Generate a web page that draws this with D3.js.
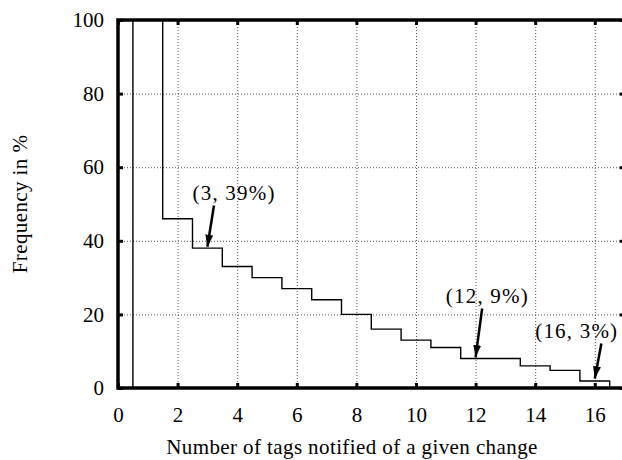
<!DOCTYPE html>
<html>
<head>
<meta charset="utf-8">
<script src="https://cdn.jsdelivr.net/npm/d3@7"></script>
<style>
    body { margin: 0; background: #fff; }
    svg { display: block; font-family: "Liberation Serif", "Times New Roman", serif; }
</style>
</head>
<body>
<svg id="chart" width="622" height="460"></svg>
<script>
    // number of tags notified of a change (0..17) and share of changes in %
    var tagCounts = [0, 1, 2, 3, 4, 5, 6, 7, 8, 9, 10, 11, 12, 13, 14, 15, 16, 17];
    var frequency = [0, 100, 46, 38, 33, 30, 27, 24, 20, 16, 13, 11, 8, 8, 6, 4.8, 1.9, 0];

    var xTicks = [0, 2, 4, 6, 8, 10, 12, 14, 16];
    var yTicks = [0, 20, 40, 60, 80, 100];

    // labelled points: arrow tip (x, tip), label start (lx, ly) in data units
    var notes = [
        { text: "(3, 39%)",  x: 3,  tip: 38.4, lx: 2.5,  ly: 51 },
        { text: "(12, 9%)",  x: 12, tip: 8.4,  lx: 11.0, ly: 23 },
        { text: "(16, 3%)",  x: 16, tip: 2.6,  lx: 14.0, ly: 13.5 }
    ];

    (function() {
        var plotLeft = 118, plotTop = 20, plotBottom = 388, unit = 29.8;
        var fontSize = "21px";

        var x = d3.scaleLinear().domain([0, 17]).range([plotLeft, plotLeft + 17 * unit]);
        var y = d3.scaleLinear().domain([0, 100]).range([plotBottom, plotTop]);
        var plotRight = x(17);

        var svg = d3.select("#chart");

        // dotted grid
        function styleGrid(g) {
            g.select(".domain").remove();
            g.selectAll("line").attr("stroke", "#555").attr("stroke-dasharray", "1,2");
        }
        svg.append("g")
            .attr("transform", "translate(0," + plotBottom + ")")
            .call(d3.axisBottom(x).tickValues(xTicks.slice(1)).tickSize(-(plotBottom - plotTop)).tickFormat(""))
            .call(styleGrid);
        svg.append("g")
            .attr("transform", "translate(" + plotLeft + ",0)")
            .call(d3.axisLeft(y).tickValues(yTicks.slice(1, -1)).tickSize(-(plotRight - plotLeft)).tickFormat(""))
            .call(styleGrid);

        // step line (histeps)
        var line = d3.line()
            .x(function(d, i) { return x(tagCounts[i]); })
            .y(function(d) { return y(d); })
            .curve(d3.curveStep);

        svg.append("path")
            .datum(frequency)
            .attr("fill", "none")
            .attr("stroke", "#000")
            .attr("stroke-width", 1.4)
            .attr("d", line);

        // axes with inward ticks
        function styleAxis(g) {
            g.select(".domain").remove();
            g.selectAll("line").attr("stroke", "#000").attr("stroke-width", 3);
            g.selectAll("text").attr("font-size", fontSize).attr("fill", "#000")
                .attr("font-family", "Liberation Serif, serif");
        }

        svg.append("g")
            .attr("transform", "translate(0," + plotBottom + ")")
            .call(d3.axisBottom(x).tickValues(xTicks).tickSize(-5).tickPadding(19))
            .call(styleAxis);
        svg.append("g")
            .attr("transform", "translate(0," + plotTop + ")")
            .call(d3.axisTop(x).tickValues(xTicks).tickSize(-5).tickFormat(""))
            .call(styleAxis);
        svg.append("g")
            .attr("transform", "translate(" + plotLeft + ",0)")
            .call(d3.axisLeft(y).tickValues(yTicks).tickSize(-5).tickPadding(14))
            .call(styleAxis);
        svg.append("g")
            .attr("transform", "translate(" + plotRight + ",0)")
            .call(d3.axisRight(y).tickValues(yTicks).tickSize(-5).tickFormat(""))
            .call(styleAxis);

        // frame
        svg.append("rect")
            .attr("x", plotLeft).attr("y", plotTop)
            .attr("width", plotRight - plotLeft).attr("height", plotBottom - plotTop)
            .attr("fill", "none").attr("stroke", "#000").attr("stroke-width", 3.5);

        // annotations
        svg.append("defs").append("marker")
            .attr("id", "head")
            .attr("markerUnits", "userSpaceOnUse")
            .attr("viewBox", "0 0 12 8")
            .attr("refX", 12).attr("refY", 4)
            .attr("markerWidth", 12).attr("markerHeight", 8)
            .attr("orient", "auto")
            .append("path").attr("d", "M0,0L12,4L0,8z").attr("fill", "#000");

        var note = svg.append("g").selectAll("g").data(notes).join("g");
        note.append("line")
            .attr("x1", function(d) { return x(d.x + 0.22); })
            .attr("y1", function(d) { return y(d.ly - 1.4); })
            .attr("x2", function(d) { return x(d.x); })
            .attr("y2", function(d) { return y(d.tip); })
            .attr("stroke", "#000")
            .attr("stroke-width", 2.5)
            .attr("marker-end", "url(#head)");
        note.append("text")
            .attr("x", function(d) { return x(d.lx); })
            .attr("y", function(d) { return y(d.ly); })
            .attr("font-size", fontSize)
            .attr("letter-spacing", "1.2px")
            .text(function(d) { return d.text; });

        // axis titles
        svg.append("text")
            .attr("x", 352).attr("y", 454)
            .attr("text-anchor", "middle")
            .attr("font-size", fontSize)
            .attr("letter-spacing", "0.4px")
            .text("Number of tags notified of a given change");
        svg.append("text")
            .attr("transform", "translate(27," + ((plotTop + plotBottom) / 2) + ") rotate(-90)")
            .attr("text-anchor", "middle")
            .attr("font-size", fontSize)
            .attr("letter-spacing", "0.4px")
            .text("Frequency in %");
    })();
</script>
</body>
</html>
